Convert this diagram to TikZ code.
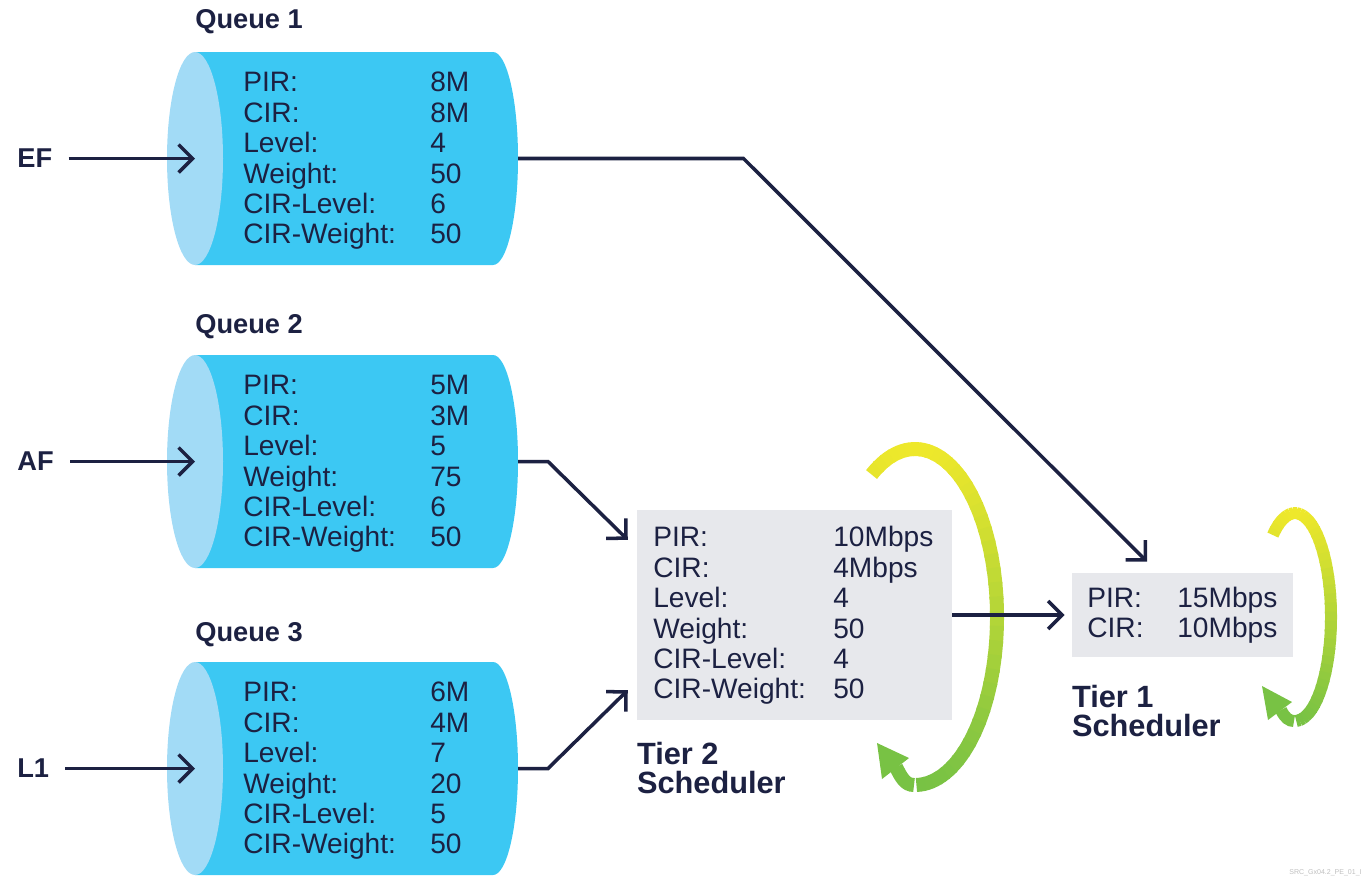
\documentclass[tikz,border=0pt]{standalone}
\usepackage{fontspec}
\setmainfont{Liberation Sans}
\usetikzlibrary{matrix, arrows.meta, positioning}

\definecolor{navy}{HTML}{1C2142}
\definecolor{qbody}{HTML}{3CC8F3}
\definecolor{qface}{HTML}{A2DBF6}
\definecolor{boxgray}{HTML}{E7E8EC}
\definecolor{arcyellow}{HTML}{EEE82B}
\definecolor{arcgreen}{HTML}{78C244}

\tikzset{
  params/.style={matrix of nodes, inner sep=0pt,
    nodes={inner sep=0pt, align=left, text=navy, text height=0.4cm, text depth=0.208cm,
      font=\fontsize{16}{18}\selectfont}},
  title/.style={font=\bfseries\fontsize{15.5}{18}\selectfont, text=navy, inner sep=0pt, anchor=west},
  tierlabel/.style={font=\bfseries\fontsize{17.5}{16.5}\selectfont, text=navy, inner sep=0pt, align=left},
  tierbox/.style={fill=boxgray, inner sep=0pt},
  flow/.style={draw=navy, line width=2pt, -{Straight Barb[length=2.8mm,width=5.6mm]}},
  band/.style={line width=#1, line cap=butt},
}

\begin{document}
\begin{tikzpicture}[x=0.02cm, y=0.02cm]
\useasboundingbox (0,0) rectangle (1364,-883);

% cylinders
\foreach \c in {158.5,461.5,768.5}{
  \fill[qbody] (195,-\c+106.5) -- (493,-\c+106.5)
    arc[start angle=90, end angle=-90, x radius=25, y radius=106.5] -- (195,-\c-106.5) -- cycle;
  \fill[qface] (195,-\c) ellipse[x radius=28, y radius=106.5];
}
\coordinate (q1-in) at (195,-158.5);
\coordinate (q2-in) at (195,-461.5);
\coordinate (q3-in) at (195,-768.5);
\coordinate (q1-out) at (518,-158.5);
\coordinate (q2-out) at (518,-461.5);
\coordinate (q3-out) at (518,-768.5);

\node[title] (q1-title) at (195,-22) {Queue 1};
\node[title] (q2-title) at (195,-327) {Queue 2};
\node[title] (q3-title) at (195,-635) {Queue 3};

\node[title] (ef) at (17,-158.5) {EF};
\node[title] (af) at (17,-461.5) {AF};
\node[title] (l1) at (17,-768.5) {L1};

\matrix (q1) [params, anchor=north west, column 1/.style={nodes={text width=3.74cm}},
  column 2/.style={nodes={text width=1.5cm}}] at (243,-71.5)
{
PIR: & 8M \\
CIR: & 8M \\
Level: & 4 \\
Weight: & 50 \\
CIR-Level: & 6 \\
CIR-Weight: & 50 \\
};
\matrix (q2) [params, anchor=north west, column 1/.style={nodes={text width=3.74cm}},
  column 2/.style={nodes={text width=1.5cm}}] at (243,-374.5)
{
PIR: & 5M \\
CIR: & 3M \\
Level: & 5 \\
Weight: & 75 \\
CIR-Level: & 6 \\
CIR-Weight: & 50 \\
};
\matrix (q3) [params, anchor=north west, column 1/.style={nodes={text width=3.74cm}},
  column 2/.style={nodes={text width=1.5cm}}] at (243,-681.5)
{
PIR: & 6M \\
CIR: & 4M \\
Level: & 7 \\
Weight: & 20 \\
CIR-Level: & 5 \\
CIR-Weight: & 50 \\
};

% schedulers
\node[tierbox, minimum width=6.3cm, minimum height=4.2cm] (t2) at (794.5,-615) {};
\node[tierbox, minimum width=4.42cm, minimum height=1.68cm] (t1) at (1182.5,-615) {};

\matrix (t2-params) [params, anchor=north west, column 1/.style={nodes={text width=3.6cm}},
  column 2/.style={nodes={text width=2.2cm}}] at (653,-526.5)
{
PIR: & 10Mbps \\
CIR: & 4Mbps \\
Level: & 4 \\
Weight: & 50 \\
CIR-Level: & 4 \\
CIR-Weight: & 50 \\
};
\matrix (t1-params) [params, anchor=north west, column 1/.style={nodes={text width=1.8cm}},
  column 2/.style={nodes={text width=2.2cm}}, row sep=-0.008cm] at (1087,-587.5)
{
PIR: & 15Mbps \\
CIR: & 10Mbps \\
};

\node[tierlabel, below right=0.44cm and 0cm of t2.south west] (t2-label) {Tier 2\\Scheduler};
\node[tierlabel, below right=0.56cm and 0cm of t1.south west] (t1-label) {Tier 1\\Scheduler};

% round robin arrows
\foreach \t [evaluate=\t as \p using {50*(1-sin(\t-3))}] in {122,117,...,-83}
  \draw[band=0.28cm, arcgreen!\p!arcyellow] ({915+82*cos(\t)},{-617+168*sin(\t)})
    arc[start angle=\t, end angle=\t-6, x radius=82, y radius=168];
\draw[band=0.28cm, arcgreen] (914,-785) .. controls (905,-785) and (901,-777) .. (896,-767);
\fill[arcgreen] (877,-743) -- (909,-758) -- (882,-779) -- cycle;

\foreach \t [evaluate=\t as \p using {50*(1-sin(\t-3))}] in {128,123,...,-82}
  \draw[band=0.24cm, arcgreen!\p!arcyellow] ({1295+36*cos(\t)},{-617+104*sin(\t)})
    arc[start angle=\t, end angle=\t-6, x radius=36, y radius=104];
\draw[band=0.24cm, arcgreen] (1294,-721) .. controls (1289,-721) and (1285,-718) .. (1281,-710);
\fill[arcgreen] (1262,-686) -- (1292,-702) -- (1268,-720) -- cycle;

% flows
\draw[flow, shorten <=0.32cm] (ef.east) -- (q1-in);
\draw[flow, shorten <=0.32cm] (af.east) -- (q2-in);
\draw[flow, shorten <=0.32cm] (l1.east) -- (q3-in);
\draw[flow, shorten >=0.31cm] (q1-out) -- ++(225.5,0) -- ([xshift=-0.49cm]t1.north);
\draw[flow, shorten >=0.25cm] (q2-out) -- ++(30,0) -- ([yshift=-0.78cm]t2.north west);
\draw[flow, shorten >=0.25cm] (q3-out) -- ++(30,0) -- ([yshift=0.78cm]t2.south west);
\draw[flow, shorten >=0.14cm] (t2.east) -- (t1.west);

\node[font=\fontsize{4}{4}\selectfont, text=black!25, anchor=east, inner sep=0pt] (src) at (1362,-873) {SRC\_Gx04.2\_PE\_01\_I};
\end{tikzpicture}
\end{document}
